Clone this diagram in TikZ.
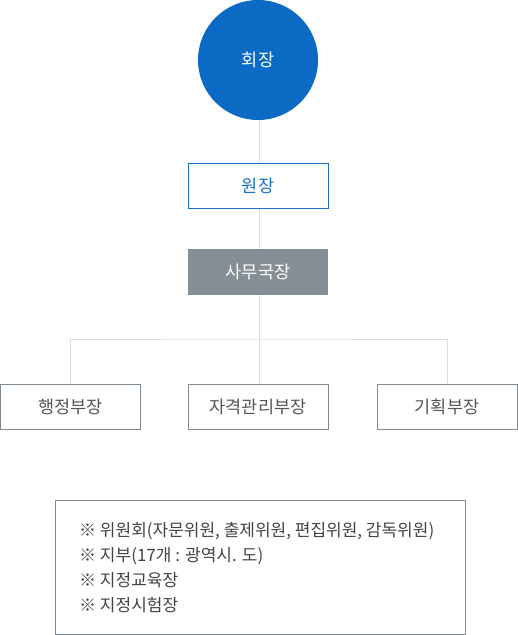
\documentclass[tikz,border=0pt]{standalone}
\usepackage{fontspec}
\setmainfont{Noto Sans CJK KR}
\definecolor{chairblue}{HTML}{0B6BC4}
\definecolor{vblue}{HTML}{1A6FC4}
\definecolor{secgray}{HTML}{868E96}
\definecolor{boxline}{HTML}{7F8A93}
\definecolor{conn}{HTML}{DDDDDD}
\definecolor{txtgray}{HTML}{555555}
\definecolor{notegray}{HTML}{444444}
\begin{document}
\begin{tikzpicture}[x=1pt,y=-1pt,
  conline/.style={draw=conn,line width=1pt},
  lbl/.style={font=\fontsize{17.5}{20}\selectfont},
  deptbox/.style={draw=boxline,line width=1pt,minimum width=140pt,minimum height=45pt,text=txtgray,lbl,inner sep=0pt},
  noteline/.style={anchor=base west,text=notegray,font=\fontsize{17}{20}\selectfont,inner sep=0pt},
]
\useasboundingbox (0,0) rectangle (518,635);
\node[circle,fill=chairblue,minimum size=120pt,inner sep=0pt,text=white,lbl] (chair) at (258,60) {회장};
\node[draw=vblue,line width=1pt,minimum width=140pt,minimum height=45pt,inner sep=0pt,text=vblue,lbl] (vice) at (258,185.5) {원장};
\node[fill=secgray,minimum width=140pt,minimum height=46pt,inner sep=0pt,text=white,lbl] (sec) at (258,272) {사무국장};
\node[deptbox] (admin) at (70.5,406.5) {행정부장};
\node[deptbox] (qual) at (258,406.5) {자격관리부장};
\node[deptbox] (plan) at (447,406.5) {기획부장};
\coordinate (hub) at (259,339);
\draw[conline] (chair.south -| 259,0) -- (vice.north -| 259,0);
\draw[conline] (vice.south -| 259,0) -- (sec.north -| 259,0);
\draw[conline] (sec.south -| 259,0) -- (qual.north -| 259,0);
\draw[conline] (admin.north) |- (hub) -| (plan.north);
\node[draw=boxline,line width=1pt,minimum width=410pt,minimum height=134pt,inner sep=0pt] (note) at (260,567) {};
\node[noteline] (n1) at (79,536) {※ 위원회(자문위원, 출제위원, 편집위원, 감독위원)};
\node[noteline] (n2) at (79,561) {※ 지부(17개 : 광역시. 도)};
\node[noteline] (n3) at (79,586) {※ 지정교육장};
\node[noteline] (n4) at (79,611) {※ 지정시험장};
\end{tikzpicture}
\end{document}
